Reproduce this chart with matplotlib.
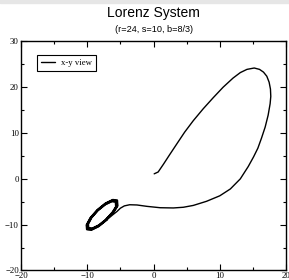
import matplotlib.pyplot as plt
from matplotlib.ticker import MultipleLocator

# trajectory (x, y projection)
path_x = [0.1, 0.7, 1.5, 2.4, 3.5, 4.7, 6.0, 7.5, 9.0, 10.5, 12.0, 13.1, 14.1, 15.2, 16.0,
          16.6, 17.1, 17.45, 17.65, 17.7, 17.6, 17.3, 16.85, 16.3, 15.75, 15.1, 14.3, 13.1,
          11.6, 10.0, 8.0, 6.0, 4.5, 3.0, 1.0, -1.0, -2.5, -3.6, -4.4, -5.0, -5.5, -6.2]
path_y = [1.1, 1.5, 3.2, 5.2, 7.6, 10.2, 12.7, 15.3, 17.7, 20.0, 22.0, 23.2, 23.9, 24.2, 23.9,
          23.3, 22.4, 21.1, 19.6, 18.0, 16.4, 13.9, 11.3, 8.9, 6.7, 4.8, 2.7, 0.0,
          -2.2, -3.7, -4.9, -5.8, -6.2, -6.35, -6.3, -6.0, -5.7, -5.65, -5.9, -6.4, -7.1, -7.9]

# turns around the fixed point, outer to inner
loop_x = [-7.06, -8.30, -9.39, -10.05, -10.10, -9.52, -8.47, -7.24, -6.14, -5.49, -5.44, -6.01,
          -7.09, -8.27, -9.31, -9.94, -9.99, -9.44, -8.44, -7.27, -6.22, -5.60, -5.55, -6.09,
          -7.12, -8.25, -9.23, -9.83, -9.88, -9.36, -8.41, -7.29, -6.30, -5.71, -5.66, -6.17,
          -7.12]
loop_y = [-8.93, -10.37, -11.14, -11.02, -10.07, -8.51, -6.79, -5.35, -4.58, -4.70, -5.90, -7.21,
          -8.88, -10.25, -10.98, -10.87, -9.96, -8.48, -6.84, -5.47, -4.74, -4.85, -5.99, -7.24,
          -8.83, -10.13, -10.82, -10.72, -9.86, -8.45, -6.89, -5.59, -4.90, -5.00, -6.08, -7.27,
          -8.83]

xs = path_x + loop_x
ys = path_y + loop_y

fig = plt.figure(figsize=(2.89, 2.80), dpi=100)
# grey strip along the top edge
fig.patches.append(plt.Rectangle((0, 0.988), 1, 0.012, transform=fig.transFigure,
                                 color='#e6e6e6', zorder=0))
ax = fig.add_axes([0.0727, 0.034, 0.917, 0.818])

ax.plot(xs, ys, color='black', lw=1.0, label='x-y view', solid_joinstyle='round',
        solid_capstyle='round')
ax.plot(loop_x, loop_y, color='black', lw=1.5, solid_joinstyle='round')

ax.set_xlim(-20, 20)
ax.set_ylim(-20, 30)
ax.xaxis.set_major_locator(MultipleLocator(10))
ax.xaxis.set_minor_locator(MultipleLocator(5))
ax.yaxis.set_major_locator(MultipleLocator(10))
ax.yaxis.set_minor_locator(MultipleLocator(5))
ax.tick_params(which='both', direction='in', top=True, right=True, width=0.8,
               labelsize=6.3, pad=1.5)
ax.tick_params(axis='x', pad=1.2)
ax.tick_params(which='major', length=4)
ax.tick_params(which='minor', length=2)
for lab in ax.get_xticklabels() + ax.get_yticklabels():
    lab.set_family('Liberation Serif')
for s in ax.spines.values():
    s.set_linewidth(1.0)

fig.text(0.532, 0.954, 'Lorenz System', ha='center', va='center',
         family='Liberation Sans', fontsize=10)
fig.text(0.532, 0.893, '(r=24, s=10, b=8/3)', ha='center', va='center',
         family='Liberation Sans', fontsize=6.6)

leg = ax.legend(loc='upper left', bbox_to_anchor=(0.062, 0.94), fancybox=False,
                edgecolor='black', framealpha=1, borderaxespad=0, handlelength=1.5,
                handletextpad=0.75, borderpad=0.45, prop={'family': 'Liberation Serif', 'size': 6.3})
leg.get_frame().set_linewidth(0.8)

fig.savefig('out.png', dpi=100)
